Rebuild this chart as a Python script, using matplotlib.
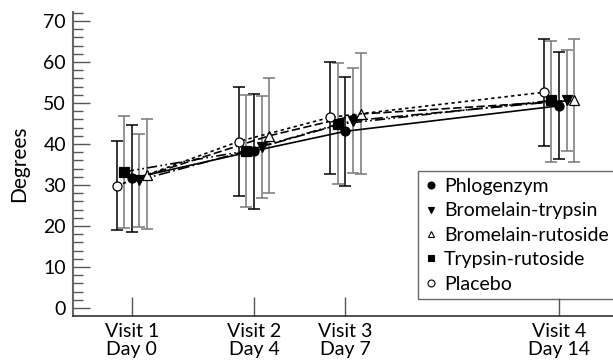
import matplotlib
matplotlib.use('Agg')
import matplotlib.pyplot as plt
from matplotlib.ticker import MultipleLocator

plt.rcParams['font.family'] = ['Lato', 'DejaVu Sans']

days = [0, 4, 7, 14]
tick_labels = ['Visit 1\nDay 0', 'Visit 2\nDay 4', 'Visit 3\nDay 7', 'Visit 4\nDay 14']

groups = ['Phlogenzym', 'Bromelain-trypsin', 'Bromelain-rutoside', 'Trypsin-rutoside', 'Placebo']

# mean and upper / lower ends of the error bars, per visit
phlog_mean = [31.6, 38.3, 43.1, 49.3]
phlog_hi = [44.7, 52.3, 56.4, 62.3]
phlog_lo = [18.6, 24.1, 29.8, 36.3]

bt_mean = [31.2, 39.3, 45.7, 50.6]
bt_hi = [42.5, 51.8, 58.5, 62.8]
bt_lo = [19.7, 26.8, 33.0, 38.4]

br_mean = [32.4, 42.0, 47.3, 50.6]
br_hi = [46.2, 56.2, 62.1, 65.6]
br_lo = [19.3, 28.1, 32.6, 35.7]

tr_mean = [33.2, 38.3, 44.8, 50.6]
tr_hi = [46.7, 52.0, 59.7, 65.2]
tr_lo = [19.6, 24.6, 30.2, 35.7]

pl_mean = [29.8, 40.6, 46.5, 52.6]
pl_hi = [40.7, 54.0, 59.9, 65.5]
pl_lo = [19.0, 27.4, 32.8, 39.5]

means = [phlog_mean, bt_mean, br_mean, tr_mean, pl_mean]
highs = [phlog_hi, bt_hi, br_hi, tr_hi, pl_hi]
lows = [phlog_lo, bt_lo, br_lo, tr_lo, pl_lo]

offsets = [0, 0.25, 0.5, -0.25, -0.5]
markers = ['o', 'v', '^', 's', 'o']
faces = ['black', 'black', 'white', 'black', 'white']
styles = ['-', (0, (7, 2, 1, 2)), (0, (5, 2)), (0, (6, 2, 1, 2, 1, 2)), (0, (2, 2))]
bar_colors = ['black', '#777777', '#777777', '#777777', 'black']

fig = plt.figure(figsize=(6.13, 3.6), dpi=100)
ax = fig.add_axes([0.119, 0.122, 0.881, 0.845])

for i, name in enumerate(groups):
    x = [d + offsets[i] for d in days]
    m = means[i]
    err = [[m[k] - lows[i][k] for k in range(4)], [highs[i][k] - m[k] for k in range(4)]]
    ax.errorbar(x, m, yerr=err, fmt='none', ecolor=bar_colors[i],
                elinewidth=1.1, capsize=4.5, capthick=1.1, zorder=2)
    ax.plot(x, m, linestyle=styles[i], color='black', linewidth=1.2,
            marker=markers[i], markersize=6.5, markerfacecolor=faces[i],
            markeredgecolor='black', markeredgewidth=0.9, zorder=3)

handles = []
for i, name in enumerate(groups):
    h, = ax.plot([], [], linestyle='none', marker=markers[i], markersize=5,
                 markerfacecolor=faces[i], markeredgecolor='black',
                 markeredgewidth=0.8, color='black', label=name)
    handles.append(h)

leg = ax.legend(handles=handles, loc='lower right', bbox_to_anchor=(1.005, 0.055),
                fontsize=14, frameon=True, fancybox=False, handlelength=0.6,
                handletextpad=0.4, labelspacing=0.38, borderpad=0.35,
                borderaxespad=0)
leg.get_frame().set_edgecolor('#444444')
leg.get_frame().set_linewidth(1.0)

ax.set_xlim(-1.93, 15.77)
ax.set_ylim(-1.95, 72.2)
ax.set_xticks(days)
ax.set_xticklabels(tick_labels, fontsize=14, linespacing=1.05)
ax.yaxis.set_major_locator(MultipleLocator(10))
ax.yaxis.set_minor_locator(MultipleLocator(2))
ax.tick_params(axis='y', which='major', direction='in', length=12, width=1.0,
               color='#555555', labelsize=14, pad=5)
ax.tick_params(axis='y', which='minor', direction='in', length=7, width=1.0,
               color='#555555')
ax.tick_params(axis='x', which='major', direction='in', length=14, width=1.0,
               color='#555555', pad=5)
ax.set_ylabel('Degrees', fontsize=15, labelpad=10)

for s in ['top', 'right']:
    ax.spines[s].set_visible(False)
ax.spines['left'].set_color('#666666')
ax.spines['left'].set_linewidth(1.5)
ax.spines['bottom'].set_color('#333333')
ax.spines['bottom'].set_linewidth(1.2)

fig.savefig('out.png', dpi=100)
